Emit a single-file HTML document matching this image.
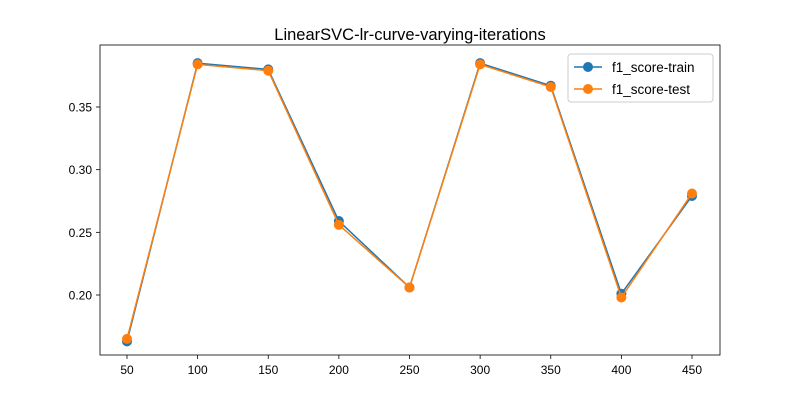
<!DOCTYPE html>
<html><head><meta charset="utf-8"><style>
body{margin:0;background:#fff;}
svg text{font-family:"Liberation Sans","DejaVu Sans",sans-serif;}
</style></head><body>
<svg id="chart" width="800" height="400" xmlns="http://www.w3.org/2000/svg">
<rect width="800" height="400" fill="#fff"/>
<text x="410" y="40" text-anchor="middle" font-size="16.5">LinearSVC-lr-curve-varying-iterations</text>
<g id="axes"></g>
<g id="series"></g>
<rect x="100" y="45" width="620" height="310" fill="none" stroke="#000" stroke-width="0.8"/>
<g>
<rect x="568" y="54" width="145" height="48" rx="3" fill="#fff" stroke="#ccc"/>
<g><line x1="574" y1="67" x2="602" y2="67" stroke="#1f77b4" stroke-width="1.5"/><circle cx="588" cy="67" r="5" fill="#1f77b4"/><text x="612" y="72" font-size="13.5">f1_score-train</text></g>
<g><line x1="574" y1="89" x2="602" y2="89" stroke="#ff7f0e" stroke-width="1.5"/><circle cx="588" cy="89" r="5" fill="#ff7f0e"/><text x="612" y="94" font-size="13.5">f1_score-test</text></g>
</g>
</svg>
<script>
const iterations=[50,100,150,200,250,300,350,400,450];
const trainScores=[0.163,0.385,0.380,0.259,0.206,0.385,0.367,0.201,0.279];
const testScores=[0.165,0.384,0.379,0.256,0.206,0.384,0.366,0.198,0.281];
const yTicks=[0.20,0.25,0.30,0.35];
const NS="http://www.w3.org/2000/svg";
function xs(v){return 127+(v-50)*(565/400);}
function ys(v){return 295-(v-0.20)*(188/0.15);}
const axes=document.getElementById('axes'),ser=document.getElementById('series');
function mk(tag,attrs,parent){const e=document.createElementNS(NS,tag);for(const k in attrs)e.setAttribute(k,attrs[k]);parent.appendChild(e);return e;}
iterations.forEach(v=>{
 const t=mk('line',{x1:xs(v),x2:xs(v),y1:355,y2:359,stroke:'#000','stroke-width':0.8},axes);
 
 
 const l=mk('text',{x:xs(v),y:374,'text-anchor':'middle','font-size':12},axes);l.textContent=v;
 
 
});
yTicks.forEach(v=>{
 const t=mk('line',{x1:96,x2:100,y1:ys(v),y2:ys(v),stroke:'#000','stroke-width':0.8},axes);
 
 
 const l=mk('text',{x:92,y:ys(v)+4.5,'text-anchor':'end','font-size':12},axes);l.textContent=v.toFixed(2);
 
 
});
function draw(vals,color,name){
 const g=mk('g',{},ser);
 
 
 const p=mk('polyline',{points:vals.map((v,i)=>xs(iterations[i])+','+ys(v)).join(' '),fill:'none',stroke:color,'stroke-width':1.5},g);
 
 
 vals.forEach((v,i)=>{const c=mk('circle',{cx:xs(iterations[i]),cy:ys(v),r:5,fill:color},g);
 
 });
}
draw(trainScores,'#1f77b4','train-series');
draw(testScores,'#ff7f0e','test-series');
</script>
</body></html>
